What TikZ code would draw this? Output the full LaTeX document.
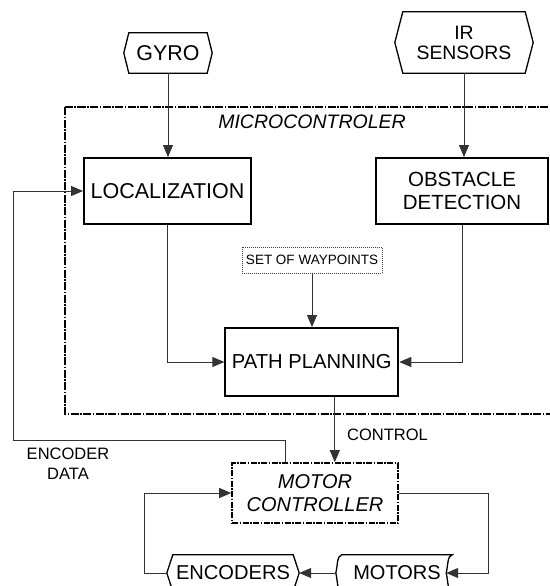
\documentclass[tikz,border=0pt]{standalone}
\usepackage{fontspec}
\setmainfont{Liberation Sans}
\usetikzlibrary{arrows.meta}

\tikzset{
  blockbox/.style={draw, line width=1.9pt, inner sep=0pt, align=center,
    font=\fontsize{20.5}{23}\selectfont},
  ctrlbox/.style={blockbox, line width=1.6pt,
    dash pattern=on 6pt off 1.5pt on 1.5pt off 1.5pt,
    font=\fontsize{20}{23}\selectfont\itshape},
  notebox/.style={draw=black!75, line width=0.6pt, dash pattern=on 1pt off 1pt,
    inner sep=0pt, font=\fontsize{13.5}{15}\selectfont},
  iobox/.style={inner sep=0pt, align=center, font=\fontsize{20.5}{23}\selectfont},
  outline/.style={line width=1.3pt},
  mcframe/.style={line width=2pt, dash pattern=on 8pt off 1.5pt on 1.5pt off 1.5pt},
  wire/.style={line width=0.9pt, draw=black!80},
  tip/.style={-{Triangle[length=12pt,width=10pt]}},
  caption/.style={inner sep=0pt, align=center, font=\fontsize{16.5}{20}\selectfont},
}

% hexagonal terminal outline around a node; #2 = depth of the side points
\newcommand\hexoutline[2]{%
  \draw[outline] (#1.north west) -- (#1.north east) -- ([xshift=#2]#1.east)
    -- (#1.south east) -- (#1.south west) -- ([xshift=-#2]#1.west) -- cycle;}

\begin{document}
\begin{tikzpicture}[x=1pt,y=-1pt]
\fill[white] (0,0) rectangle (549,586);
\useasboundingbox (0,0) rectangle (549,586);

% microcontroller boundary
\coordinate (mcNW) at (65,107);
\coordinate (mcSE) at (562,414);
\draw[mcframe] (mcNW) rectangle (mcSE);
\node[caption, font=\fontsize{19.5}{22}\selectfont\itshape] (mclabel) at (312,122) {MICROCONTROLER};

% sensors
\node[iobox, minimum width=78, minimum height=40, font=\fontsize{21.4}{24}\selectfont] (gyro) at (168,53) {GYRO};
\hexoutline{gyro}{5pt}
\node[iobox, minimum width=122, minimum height=61, font=\fontsize{19.4}{20}\selectfont] (ir) at (464,42.5) {IR\\SENSORS};
\hexoutline{ir}{8pt}

% processing blocks
\node[blockbox, minimum width=167, minimum height=66, font=\fontsize{21.5}{24}\selectfont] (loc) at (167.5,191) {LOCALIZATION};
\node[blockbox, minimum width=172, minimum height=66] (obst) at (462,191) {OBSTACLE\\DETECTION};
\node[notebox, minimum width=140, minimum height=26] (wp) at (312,260) {SET OF WAYPOINTS};
\node[blockbox, minimum width=173, minimum height=68, font=\fontsize{20.2}{23}\selectfont] (path) at (311.8,362) {PATH PLANNING};

% motor side
\node[ctrlbox, minimum width=166, minimum height=60] (mc) at (315,493) {MOTOR\\CONTROLLER};
\node[iobox, minimum width=120, minimum height=36, font=\fontsize{20.1}{23}\selectfont] (enc) at (233,573) {ENCODERS};
\hexoutline{enc}{6pt}
\node[iobox, minimum width=110, minimum height=36, font=\fontsize{20}{23}\selectfont] (mot) at (397,573) {MOTORS};
\draw[outline] (mot.north west) -- (mot.north east)
  .. controls +(-5,1) and +(2,-8) .. ([xshift=-6pt]mot.east)
  .. controls +(2,8) and +(-5,-1) .. (mot.south east)
  -- (mot.south west)
  .. controls +(-5,-1) and +(2,8) .. ([xshift=-6pt]mot.west)
  .. controls +(2,-8) and +(-5,1) .. cycle;

% connectors
\draw[wire,tip] (gyro.south) -- (gyro.south |- loc.north);
\draw[wire,tip] (ir.south) -- (ir.south |- obst.north);
\draw[wire,tip] (loc.south) |- (path.west);
\draw[wire,tip] (obst.south) |- (path.east);
\draw[wire,tip] (wp.south) -- (wp.south |- path.north);
\draw[wire,tip] ([xshift=23pt]path.south) -- ([xshift=23pt]path.south |- mc.north);
\node[caption, anchor=west] (ctl) at (347,434.5) {CONTROL};

\coordinate (fb) at (13,440);
\draw[wire,tip] ([xshift=-30pt]mc.north) |- (fb) |- (loc.west);
\node[caption] (encdata) at (68,464) {ENCODER\\DATA};

\coordinate (loopL) at (144,573);
\coordinate (loopR) at (488,493);
\draw[wire,tip] ([xshift=-6pt]enc.west) -- (loopL) |- (mc.west);
\draw[wire,tip] (mc.east) -- (loopR) |- ([xshift=-6pt]mot.east);
\draw[wire,tip] ([xshift=-6pt]mot.west) -- ([xshift=6pt]enc.east);
\end{tikzpicture}
\end{document}
